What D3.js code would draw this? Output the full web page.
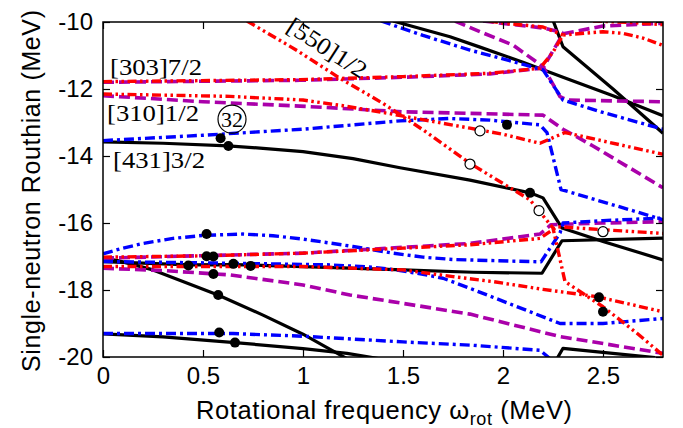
<!DOCTYPE html>
<html><head><meta charset="utf-8">
<script src="https://cdn.jsdelivr.net/npm/d3@7"></script>
<style>html,body{margin:0;padding:0;background:#fff;} svg{display:block;}</style>
</head><body>
<svg id="chart" width="683" height="428"></svg>
<script>
// ---- data (x = rotational frequency in MeV, y = Routhian in MeV) ----
const xTicks = [0, 0.5, 1, 1.5, 2, 2.5];
const yTicks = [-20, -18, -16, -14, -12, -10];
const xTickLabels = ["0", "0.5", "1", "1.5", "2", "2.5"];
const yTickLabels = ["-20", "-18", "-16", "-14", "-12", "-10"];

// black solid
const blackA = [[0,-13.58],[0.3,-13.62],[0.625,-13.70],[0.8,-13.77],[1.0,-13.87],[1.25,-14.08],[1.485,-14.35],[1.835,-14.72],[2.135,-15.10],[2.2,-15.25],[2.295,-16.15],[2.5,-16.55],[2.8,-17.10]];
const blackB = [[0,-17.15],[0.43,-17.25],[0.65,-17.24],[1.0,-17.3],[1.5,-17.4],[1.85,-17.47],[2.195,-17.5],[2.295,-16.53],[2.8,-16.45]];
const blackC = [[0,-17.05],[0.08,-17.13],[0.25,-17.4],[0.575,-18.15],[0.8,-18.75],[1.0,-19.32],[1.12,-19.72],[1.22,-20.05]];
const blackD = [[0,-19.31],[0.3,-19.4],[0.66,-19.57],[1.0,-19.75],[1.22,-19.89],[1.38,-20.05]];
const blackE = [[2.27,-20.05],[2.3,-19.74],[2.76,-20.02]];
const blackF = [[1.45,-9.97],[1.735,-10.44],[1.885,-10.75],[2.1,-11.2],[2.3,-11.65],[2.55,-12.2],[2.8,-12.8]];
const blackG = [[2.25,-9.95],[2.3,-10.74],[2.55,-12.0],[2.8,-13.32]];

// blue dash-dot
const blueA = [[0,-13.54],[0.5,-13.38],[1.0,-13.2],[1.485,-12.95],[1.735,-12.88],[1.935,-12.93],[2.185,-13.07],[2.22,-13.3],[2.29,-15.0],[2.8,-15.9]];
const blueB = [[0,-16.92],[0.1,-16.75],[0.2,-16.61],[0.35,-16.46],[0.5,-16.37],[0.7,-16.33],[0.85,-16.38],[1.0,-16.48],[1.25,-16.7],[1.45,-16.9],[1.6,-17.02],[1.75,-17.09],[1.935,-17.12],[2.19,-17.16],[2.285,-16.3],[2.3,-16.0],[2.5,-15.93],[2.8,-15.85]];
const blueC = [[0,-17.15],[0.635,-17.2],[1.135,-17.25],[1.35,-17.32],[1.485,-17.42],[1.6,-17.53],[1.7,-17.65],[1.835,-17.95],[2.05,-18.45],[2.285,-19.0],[2.5,-19.0],[2.8,-18.85]];
const blueD = [[0,-19.3],[0.65,-19.3],[1.0,-19.38],[1.5,-19.55],[1.85,-19.65],[2.185,-19.8],[2.235,-20.05]];
const blueE = [[1.39,-9.97],[1.6,-10.4],[1.835,-10.84],[2.0,-11.1],[2.2,-11.43],[2.3,-12.33],[2.5,-12.7],[2.8,-13.2]];

// red dash-dot-dot
const red303 = [[0,-11.78],[0.985,-11.72],[1.5,-11.63],[1.935,-11.53],[2.185,-11.38],[2.25,-10.9],[2.3,-10.39],[2.5,-10.29],[2.6,-10.34],[2.7,-10.48],[2.8,-10.7]];
const redTop = [[1.93,-9.97],[2.0,-10.03],[2.2,-10.15],[2.3,-10.39]];
const redTop2 = [[2.45,-9.97],[2.65,-10.02],[2.8,-10.08]];
const red310 = [[0,-12.15],[0.635,-12.22],[1.0,-12.33],[1.2,-12.5],[1.4,-12.7],[1.835,-13.17],[2.0,-13.35],[2.185,-13.62],[2.31,-13.3],[2.8,-13.95]];
const red550 = [[0.72,-9.97],[0.97,-10.85],[1.185,-11.68],[1.4,-12.43],[1.6,-13.22],[1.835,-14.22],[2.135,-15.31],[2.25,-16.15],[2.31,-17.75],[2.5,-18.5],[2.67,-19.29],[2.8,-19.95]];
const redL1 = [[0,-17.02],[0.5,-16.98],[1.0,-16.9],[1.5,-16.75],[1.835,-16.65],[2.185,-16.46],[2.27,-16.11],[2.5,-16.2],[2.8,-16.31]];
const redL2 = [[0,-17.3],[0.5,-17.3],[1.0,-17.3],[1.5,-17.4],[1.75,-17.6],[1.95,-17.75],[2.2,-17.98],[2.47,-18.2],[2.8,-18.65]];

// purple dashed
const purple303 = [[0,-11.8],[0.985,-11.74],[1.5,-11.65],[1.935,-11.55],[2.2,-11.37],[2.3,-10.35],[2.5,-10.12],[2.8,-10.04]];
const purpleTop = [[1.76,-9.97],[1.885,-10.29],[2.05,-10.69],[2.2,-11.33],[2.285,-12.23],[2.32,-12.33],[2.8,-12.38]];
const purpleTop2 = [[1.9,-9.97],[2.2,-10.18],[2.3,-10.32]];
const purple310 = [[0,-12.2],[0.085,-12.23],[0.5,-12.38],[0.985,-12.51],[1.5,-12.68],[2.2,-12.78],[2.3,-13.2],[2.45,-13.7],[2.8,-14.95]];
const purpleL1 = [[0,-17.05],[1.0,-16.9],[1.835,-16.61],[2.185,-16.33],[2.24,-16.05],[2.5,-16.0],[2.8,-15.96]];
const purpleL2 = [[0,-17.35],[0.3,-17.42],[0.635,-17.55],[1.0,-17.85],[1.235,-18.15],[1.5,-18.4],[1.835,-18.72],[2.285,-19.39],[2.8,-19.89]];

// markers
const filledX = [0.588,0.627,2.02,2.135,0.518,0.518,0.552,0.427,0.652,0.738,0.552,0.576,0.581,0.66,2.48,2.5];
const filledE = [-13.47,-13.70,-13.07,-15.10,-16.33,-16.99,-17.0,-17.27,-17.22,-17.28,-17.52,-18.15,-19.27,-19.57,-18.22,-18.65];
const openX = [1.885,1.835,2.18,2.5];
const openE = [-13.25,-14.24,-15.63,-16.26];

// orbital labels
const labelText = ["[303]7/2", "[310]1/2", "[431]3/2"];
const labelX = [0.035, 0.02, 0.05];
const labelE = [-11.59, -12.95, -14.36];

// ---- drawing ----
const W = 683, H = 428;
const m = {left: 103, right: 20, top: 22, bottom: 71};
const svg = d3.select("#chart");
const x = d3.scaleLinear().domain([0, 2.8]).range([m.left, W - m.right]);
const y = d3.scaleLinear().domain([-20, -10]).range([H - m.bottom, m.top]);

const styles = {
  black:  {color: "#000000", dash: null, width: 3.2},
  blue:   {color: "#0000ff", dash: "10,4,3,4", width: 3.4},
  red:    {color: "#ff0000", dash: "9,3.5,2.5,3.5,2.5,3.5", width: 3.4},
  purple: {color: "#aa00aa", dash: "11,5", width: 3.6}
};
const series = [
  {d: blackA, s: "black"}, {d: blackB, s: "black"}, {d: blackC, s: "black"}, {d: blackD, s: "black"},
  {d: blackE, s: "black"}, {d: blackF, s: "black"}, {d: blackG, s: "black"},
  {d: purple303, s: "purple"}, {d: purpleTop, s: "purple"}, {d: purpleTop2, s: "purple"},
  {d: purple310, s: "purple"}, {d: purpleL1, s: "purple"}, {d: purpleL2, s: "purple"},
  {d: blueA, s: "blue"}, {d: blueB, s: "blue"}, {d: blueC, s: "blue"}, {d: blueD, s: "blue"}, {d: blueE, s: "blue"},
  {d: red303, s: "red"}, {d: redTop, s: "red"}, {d: redTop2, s: "red"}, {d: red310, s: "red"},
  {d: red550, s: "red"}, {d: redL1, s: "red"}, {d: redL2, s: "red"}
];

svg.append("defs").append("clipPath").attr("id", "clip")
  .append("rect").attr("x", m.left).attr("y", m.top)
  .attr("width", W - m.left - m.right).attr("height", H - m.top - m.bottom);

const line = d3.line().x(d => x(d[0])).y(d => y(d[1])).curve(d3.curveLinear);
const plot = svg.append("g").attr("clip-path", "url(#clip)");
series.forEach(sr => {
  const st = styles[sr.s];
  plot.append("path").attr("d", line(sr.d)).attr("fill", "none")
    .attr("stroke", st.color).attr("stroke-width", st.width)
    .attr("stroke-dasharray", st.dash).attr("stroke-linejoin", "round");
});

// markers
plot.selectAll("circle.f").data(filledX.map((v, i) => [v, filledE[i]])).enter()
  .append("circle").attr("cx", d => x(d[0])).attr("cy", d => y(d[1])).attr("r", 5).attr("fill", "#000");
plot.selectAll("circle.o").data(openX.map((v, i) => [v, openE[i]])).enter()
  .append("circle").attr("cx", d => x(d[0])).attr("cy", d => y(d[1])).attr("r", 5)
  .attr("fill", "#fff").attr("stroke", "#000").attr("stroke-width", 1.2);

// axes
const fontSans = "'Liberation Sans', Arial, Helvetica, sans-serif";
const axB = svg.append("g").attr("transform", `translate(0,${H - m.bottom})`)
  .call(d3.axisBottom(x).tickValues(xTicks).tickFormat((d, i) => xTickLabels[i]).tickSize(-7).tickPadding(10));
const axL = svg.append("g").attr("transform", `translate(${m.left},0)`)
  .call(d3.axisLeft(y).tickValues(yTicks).tickFormat((d, i) => yTickLabels[i]).tickSize(-7).tickPadding(10));
const axT = svg.append("g").attr("transform", `translate(0,${m.top})`)
  .call(d3.axisTop(x).tickValues(xTicks).tickFormat("").tickSize(-7));
const axR = svg.append("g").attr("transform", `translate(${W - m.right},0)`)
  .call(d3.axisRight(y).tickValues(yTicks).tickFormat("").tickSize(-7));
[axB, axL, axT, axR].forEach(a => {
  a.select(".domain").remove();
  a.selectAll(".tick line").attr("stroke", "#000").attr("stroke-width", 1.2);
  a.selectAll("text").attr("font-family", fontSans).attr("font-size", 24).attr("fill", "#000");
});
svg.append("rect").attr("x", m.left).attr("y", m.top)
  .attr("width", W - m.left - m.right).attr("height", H - m.top - m.bottom)
  .attr("fill", "none").attr("stroke", "#000").attr("stroke-width", 1.5);

// axis titles
svg.append("text").attr("transform", "translate(40,191) rotate(-90)")
  .attr("text-anchor", "middle").attr("font-family", fontSans).attr("font-size", 25)
  .attr("textLength", 362).attr("lengthAdjust", "spacing")
  .text("Single-neutron Routhian (MeV)");
const xt = svg.append("text").attr("x", 384).attr("y", 419).attr("text-anchor", "middle")
  .attr("font-family", fontSans).attr("font-size", 25.5)
  .attr("textLength", 376).attr("lengthAdjust", "spacing");
xt.append("tspan").text("Rotational frequency ω");
xt.append("tspan").attr("font-size", 18).attr("dy", 6).text("rot");
xt.append("tspan").attr("dy", -6).text(" (MeV)");

// orbital labels
const fontSerif = "'Liberation Serif', 'Times New Roman', serif";
labelText.forEach((t, i) => {
  svg.append("text").attr("x", x(labelX[i])).attr("y", y(labelE[i]))
    .attr("font-family", fontSerif).attr("font-size", 24)
    .attr("textLength", 92).attr("lengthAdjust", "spacingAndGlyphs").text(t);
});
svg.append("text").attr("transform", "translate(327,48) rotate(33)")
  .attr("text-anchor", "middle").attr("dy", 8)
  .attr("font-family", fontSerif).attr("font-size", 24)
  .attr("textLength", 90).attr("lengthAdjust", "spacingAndGlyphs").text("[550]1/2");
// circled 32
const cx32 = x(0.645), cy32 = y(-12.9);
svg.append("circle").attr("cx", cx32).attr("cy", cy32).attr("r", 14)
  .attr("fill", "none").attr("stroke", "#000").attr("stroke-width", 1.2);
svg.append("text").attr("x", cx32).attr("y", cy32 + 7.5).attr("text-anchor", "middle")
  .attr("font-family", fontSerif).attr("font-size", 22).text("32");
</script>
</body></html>
